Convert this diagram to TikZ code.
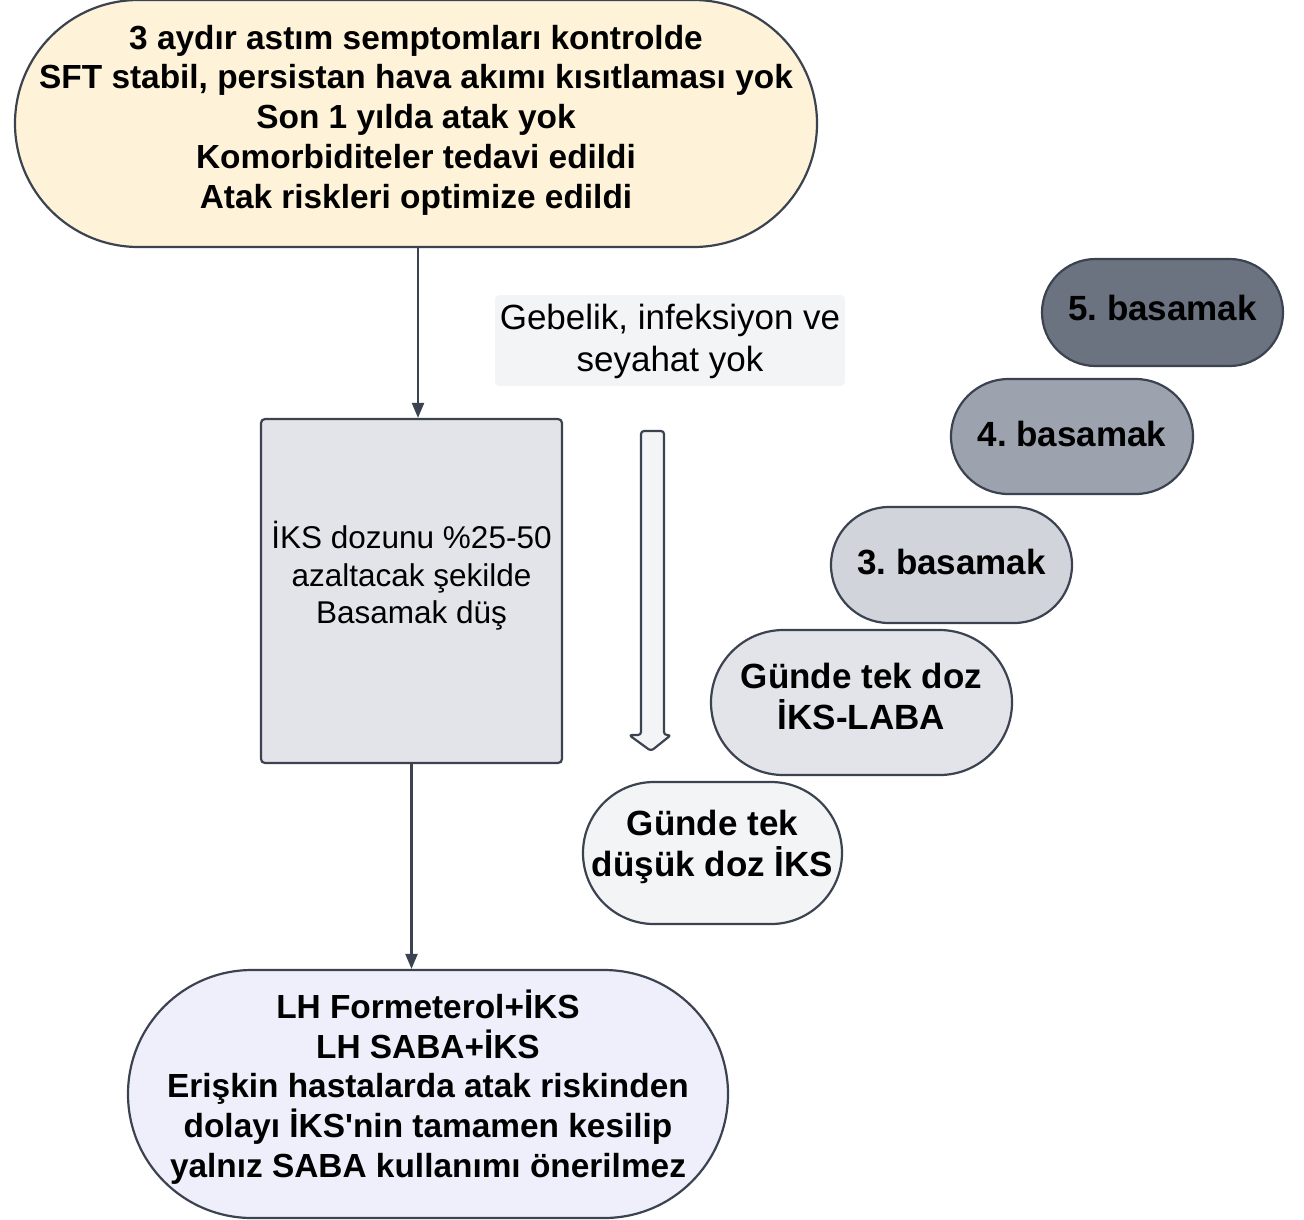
\documentclass[tikz,border=0pt]{standalone}
\usepackage{fontspec}
\setmainfont{Liberation Sans}
\usetikzlibrary{shapes.misc,arrows.meta}
\frenchspacing
\definecolor{edgecol}{HTML}{3C4350}
\definecolor{peach}{HTML}{FEF3D9}
\definecolor{lavender}{HTML}{EFEFFC}
\definecolor{grayA}{HTML}{F3F4F6}
\definecolor{grayB}{HTML}{E2E4E9}
\definecolor{grayC}{HTML}{D1D5DB}
\definecolor{grayD}{HTML}{9CA3AF}
\definecolor{grayE}{HTML}{6B7280}
\tikzset{
  pill/.style={rounded rectangle, draw=edgecol, line width=2.2pt, inner sep=0pt},
  boxrect/.style={rectangle, rounded corners=4pt, draw=edgecol, line width=2.2pt, inner sep=0pt},
  boldtext/.style={align=center, inner sep=0pt, font=\fontsize{33.4}{39.7}\selectfont\bfseries},
  steptext/.style={align=center, inner sep=0pt, font=\fontsize{35}{41}\selectfont\bfseries},
  plaintext/.style={align=center, inner sep=0pt, font=\fontsize{31.5}{37.5}\selectfont},
  conn/.style={draw=edgecol, line width=2.2pt, -{Triangle[length=15pt,width=12pt]}},
}
\begin{document}
\begin{tikzpicture}[x=1pt,y=-1pt]
\useasboundingbox (0,0) rectangle (1304,1219);

% entry criteria
\node[pill, fill=peach, minimum width=802, minimum height=247] (top) at (416,123.5) {};
\node[boldtext] (toptxt) at (416,120)
  {3 aydır astım semptomları kontrolde\\
   SFT stabil, persistan hava akımı kısıtlaması yok\\
   Son 1 yılda atak yok\\
   Komorbiditeler tedavi edildi\\
   Atak riskleri optimize edildi};

% step-down box
\node[boxrect, fill=grayB, minimum width=301, minimum height=344] (rect) at (411.5,591) {};
\node[plaintext] (recttxt) at (411.5,576)
  {İKS dozunu \%25-50\\ azaltacak şekilde\\ Basamak düş};

% reliever options
\node[pill, fill=lavender, minimum width=600, minimum height=248] (bottom) at (428,1094) {};
\node[boldtext] (bottomtxt) at (428,1087)
  {LH Formeterol+İKS\\
   LH SABA+İKS\\
   Erişkin hastalarda atak riskinden\\
   dolayı İKS\textquotesingle nin tamamen kesilip\\
   yalnız SABA kullanımı önerilmez};

% condition label
\node[rectangle, rounded corners=4pt, fill=grayA, minimum width=350, minimum height=91,
  inner sep=0pt] (cond) at (670,340.5) {};
\node[align=center, inner sep=0pt, font=\fontsize{35}{42}\selectfont] (condtxt) at (670,341)
  {Gebelik, infeksiyon ve\\ seyahat yok};

% treatment steps
\node[pill, fill=grayA, minimum width=259, minimum height=142] (s1) at (712.5,853) {};
\node[steptext] (s1txt) at (712.5,847) {Günde tek\\ düşük doz İKS};
\node[pill, fill=grayB, minimum width=301, minimum height=145] (s2) at (861.5,702.5) {};
\node[steptext] (s2txt) at (861.5,696.5) {Günde tek doz\\ İKS-LABA};
\node[pill, fill=grayC, minimum width=241, minimum height=116] (s3) at (951.5,565) {};
\node[steptext] (s3txt) at (951.5,562) {3. basamak};
\node[pill, fill=grayD, minimum width=242, minimum height=115] (s4) at (1072,436.5) {};
\node[steptext] (s4txt) at (1072,434) {4. basamak};
\node[pill, fill=grayE, minimum width=241, minimum height=107] (s5) at (1162.5,312.5) {};
\node[steptext] (s5txt) at (1162.5,308) {5. basamak};

% hollow downward arrow
\draw[draw=edgecol, fill=grayA, line width=2.2pt, rounded corners=3pt, line join=round]
  (641,431) -- (641,735) -- (629,735) -- (651,751) -- (671,735) -- (664,735) -- (664,431) -- cycle;

% connectors
\coordinate (inA) at ([xshift=6.5pt]rect.north);
\draw[conn] (top.south -| inA) -- (inA);
\draw[conn] (rect.south) -- (rect.south |- bottom.north);
\end{tikzpicture}
\end{document}
